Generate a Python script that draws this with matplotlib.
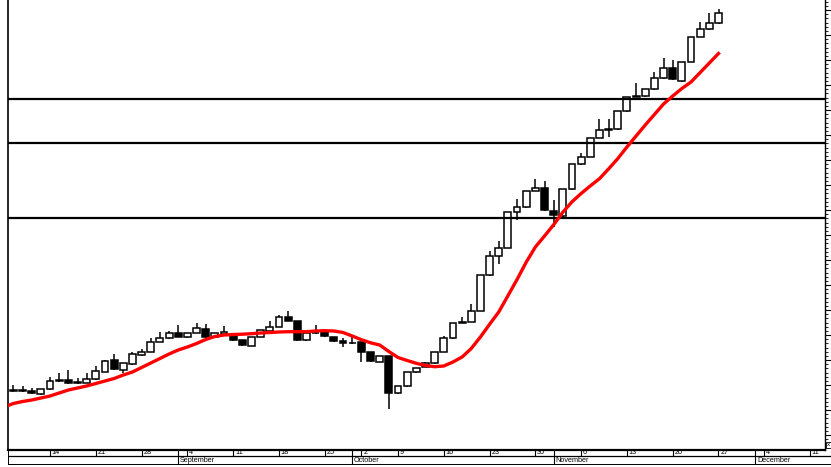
import numpy as np
import matplotlib
matplotlib.use('Agg')
import matplotlib.pyplot as plt
from matplotlib.ticker import MultipleLocator, AutoMinorLocator

# daily candles (one per trading day)
opens = [7.0, 6.95, 6.95, 6.6, 7.07, 7.9, 8.0, 7.76, 7.73, 8.07,
         8.83, 10.0, 9.0, 9.57, 10.5, 10.83, 11.83, 12.17, 12.67, 12.27,
         12.7, 13.07, 12.27, 12.57, 12.5, 12.0, 11.43, 12.33, 12.93, 13.33,
         14.33, 13.93, 12.0, 12.67, 12.77, 12.33, 11.93, 11.73, 11.77, 10.83,
         9.83, 10.4, 6.67, 7.4, 8.77, 9.33, 9.67, 10.83, 12.17, 13.73,
         13.83, 14.93, 18.5, 20.43, 21.23, 24.77, 25.27, 26.93, 27.23, 24.95,
         24.4, 27.07, 29.6, 30.33, 32.23, 33.0, 33.1, 34.9, 36.33, 36.4,
         37.07, 38.17, 39.23, 37.9, 39.83, 42.33, 43.07, 43.67]
highs = [7.5, 7.45, 7.2, 7.1, 8.33, 8.67, 9.0, 8.2, 8.7, 9.4,
         10.0, 10.57, 9.7, 10.83, 11.07, 12.2, 12.83, 12.93, 13.5, 12.75,
         13.73, 13.6, 12.7, 13.4, 12.55, 12.05, 12.35, 13.05, 13.93, 14.5,
         14.93, 13.95, 12.75, 13.5, 12.8, 12.35, 12.17, 12.27, 11.8, 10.85,
         10.45, 10.45, 7.45, 8.85, 9.25, 9.83, 10.85, 12.4, 13.75, 14.33,
         15.57, 18.55, 20.9, 21.9, 24.8, 26.07, 26.95, 28.1, 27.9, 26.0,
         27.1, 29.65, 30.67, 32.25, 34.07, 34.07, 34.95, 36.35, 37.67, 37.1,
         38.83, 40.17, 40.0, 39.85, 42.35, 43.83, 44.73, 45.07]
lows = [6.8, 6.8, 6.65, 6.55, 7.05, 7.8, 7.65, 7.6, 7.7, 8.05,
        8.8, 9.0, 8.7, 9.55, 10.45, 10.8, 11.8, 12.15, 12.3, 12.25,
        12.67, 12.25, 12.25, 12.55, 11.95, 11.45, 11.4, 12.3, 12.9, 13.3,
        13.9, 11.95, 11.95, 12.6, 12.27, 11.83, 11.3, 11.65, 9.83, 9.85,
        9.8, 5.07, 6.65, 7.35, 8.75, 9.3, 9.65, 10.8, 12.15, 13.7,
        13.8, 14.9, 18.45, 19.57, 21.2, 24.0, 25.25, 26.9, 24.95, 23.3,
        24.35, 27.05, 29.55, 30.3, 32.2, 32.33, 33.05, 34.85, 36.3, 36.35,
        37.05, 38.15, 38.05, 37.85, 39.8, 42.3, 43.05, 43.65]
closes = [6.9, 6.9, 6.73, 7.07, 7.93, 7.95, 7.73, 7.73, 8.1, 8.93,
          9.93, 9.07, 9.67, 10.57, 10.83, 11.83, 12.17, 12.67, 12.33, 12.73,
          13.2, 12.27, 12.67, 12.77, 12.0, 11.5, 12.33, 13.0, 13.33, 14.27,
          13.93, 12.0, 12.73, 12.75, 12.4, 11.93, 11.67, 11.67, 10.83, 9.9,
          10.4, 6.73, 7.4, 8.83, 9.23, 9.67, 10.83, 12.17, 13.73, 13.83,
          14.93, 18.5, 20.43, 21.23, 24.77, 25.27, 26.93, 27.23, 25.0, 24.5,
          27.07, 29.6, 30.33, 32.23, 33.0, 33.1, 34.9, 36.33, 36.4, 37.07,
          38.17, 39.23, 38.07, 39.83, 42.33, 43.07, 43.67, 44.67]

# moving average, starts one day before the first visible candle
ma = [5.3, 5.65, 5.85, 6.0, 6.2, 6.4, 6.7, 7.0, 7.2, 7.4,
      7.65, 7.9, 8.15, 8.5, 8.8, 9.25, 9.7, 10.15, 10.6, 11.0,
      11.3, 11.65, 12.05, 12.35, 12.5, 12.55, 12.58, 12.63, 12.7, 12.75,
      12.8, 12.83, 12.83, 12.83, 12.9, 12.93, 12.9, 12.75, 12.4, 12.03,
      11.72, 11.5, 10.85, 10.25, 9.95, 9.67, 9.45, 9.33, 9.4, 9.8,
      10.3, 11.15, 12.3, 13.57, 14.8, 16.42, 18.05, 19.78, 21.3, 22.4,
      23.53, 24.78, 25.82, 26.65, 27.41, 28.13, 29.11, 30.14, 31.3, 32.4,
      33.5, 34.55, 35.6, 36.4, 37.15, 37.8, 38.75, 39.7, 40.65]

levels = [36.1, 31.67, 24.17]

day_ticks = [4, 9, 14, 19, 24, 29, 34, 38, 42, 47, 52, 57, 62, 67, 72, 77, 82, 87]
day_labels = ['14', '21', '28', '4', '11', '18', '25', '2', '9', '16', '23',
              '30', '6', '13', '20', '27', '4', '11']
month_starts = [18, 37, 59, 81]
month_names = ['September', 'October', 'November', 'December']

W, H = 831, 467
fig = plt.figure(figsize=(W / 100, H / 100), dpi=100)
ax = fig.add_axes([8 / W, 17 / H, 817 / W, 450 / H])

x = np.arange(len(opens))
o = np.array(opens)
c = np.array(closes)
up = c >= o

ax.vlines(x, lows, highs, color='black', lw=1.1, zorder=2)
bottoms = np.minimum(o, c)
heights = np.maximum(np.abs(c - o), 0.06)
ax.bar(x, heights, bottom=bottoms, width=0.75,
       color=np.where(up, 'white', 'black'), edgecolor='black', lw=1.1, zorder=3)

for lv in levels:
    ax.axhline(lv, color='black', lw=1.6, zorder=4)

ax.plot(np.arange(-1, len(ma) - 1), ma, color='#ff0000', lw=2.4, zorder=5)

ax.set_xlim(-0.59, 88.63)
ax.set_ylim(1.0, 46.0)
ax.set_xticks([])
ax.yaxis.tick_right()
ax.yaxis.set_major_locator(MultipleLocator(2.5))
ax.yaxis.set_minor_locator(AutoMinorLocator(6))
ax.tick_params(axis='y', which='major', length=4, width=0.8, labelright=False)
ax.tick_params(axis='y', which='minor', length=2, width=0.6)
ax.spines['top'].set_visible(False)
ax.spines['left'].set_linewidth(1.2)
ax.spines['right'].set_linewidth(1.0)
ax.spines['bottom'].set_linewidth(1.6)

# date strip under the chart
axd = fig.add_axes([8 / W, 2 / H, 823 / W, 15 / H])
axd.set_xlim(-0.59, (831 - 13.4) / 9.157)
axd.set_ylim(0, 15)
axd.axis('off')
axd.axhline(9.3, color='black', lw=0.9)
axd.axhline(0.3, color='black', lw=1.4)
axd.axvline(-0.59, color='black', lw=1.4)
axd.vlines(day_ticks, 9.3, 15, color='black', lw=0.8)
axd.vlines(month_starts, 0.3, 15, color='black', lw=0.8)
for t, lab in zip(day_ticks, day_labels):
    axd.text(t + 0.2, 12.2, lab, fontsize=5.2, family='Liberation Sans',
             ha='left', va='center')
for m, name in zip(month_starts, month_names):
    axd.text(m + 0.2, 4.8, name, fontsize=5.2, family='Liberation Sans',
             ha='left', va='center')

fig.text(828 / W, 1 - 445 / H, 'x', fontsize=4.5, family='Liberation Sans',
         ha='center', va='center',
         bbox=dict(boxstyle='square,pad=0.15', fc='white', ec='black', lw=0.6))

fig.savefig('out.png', dpi=100)
